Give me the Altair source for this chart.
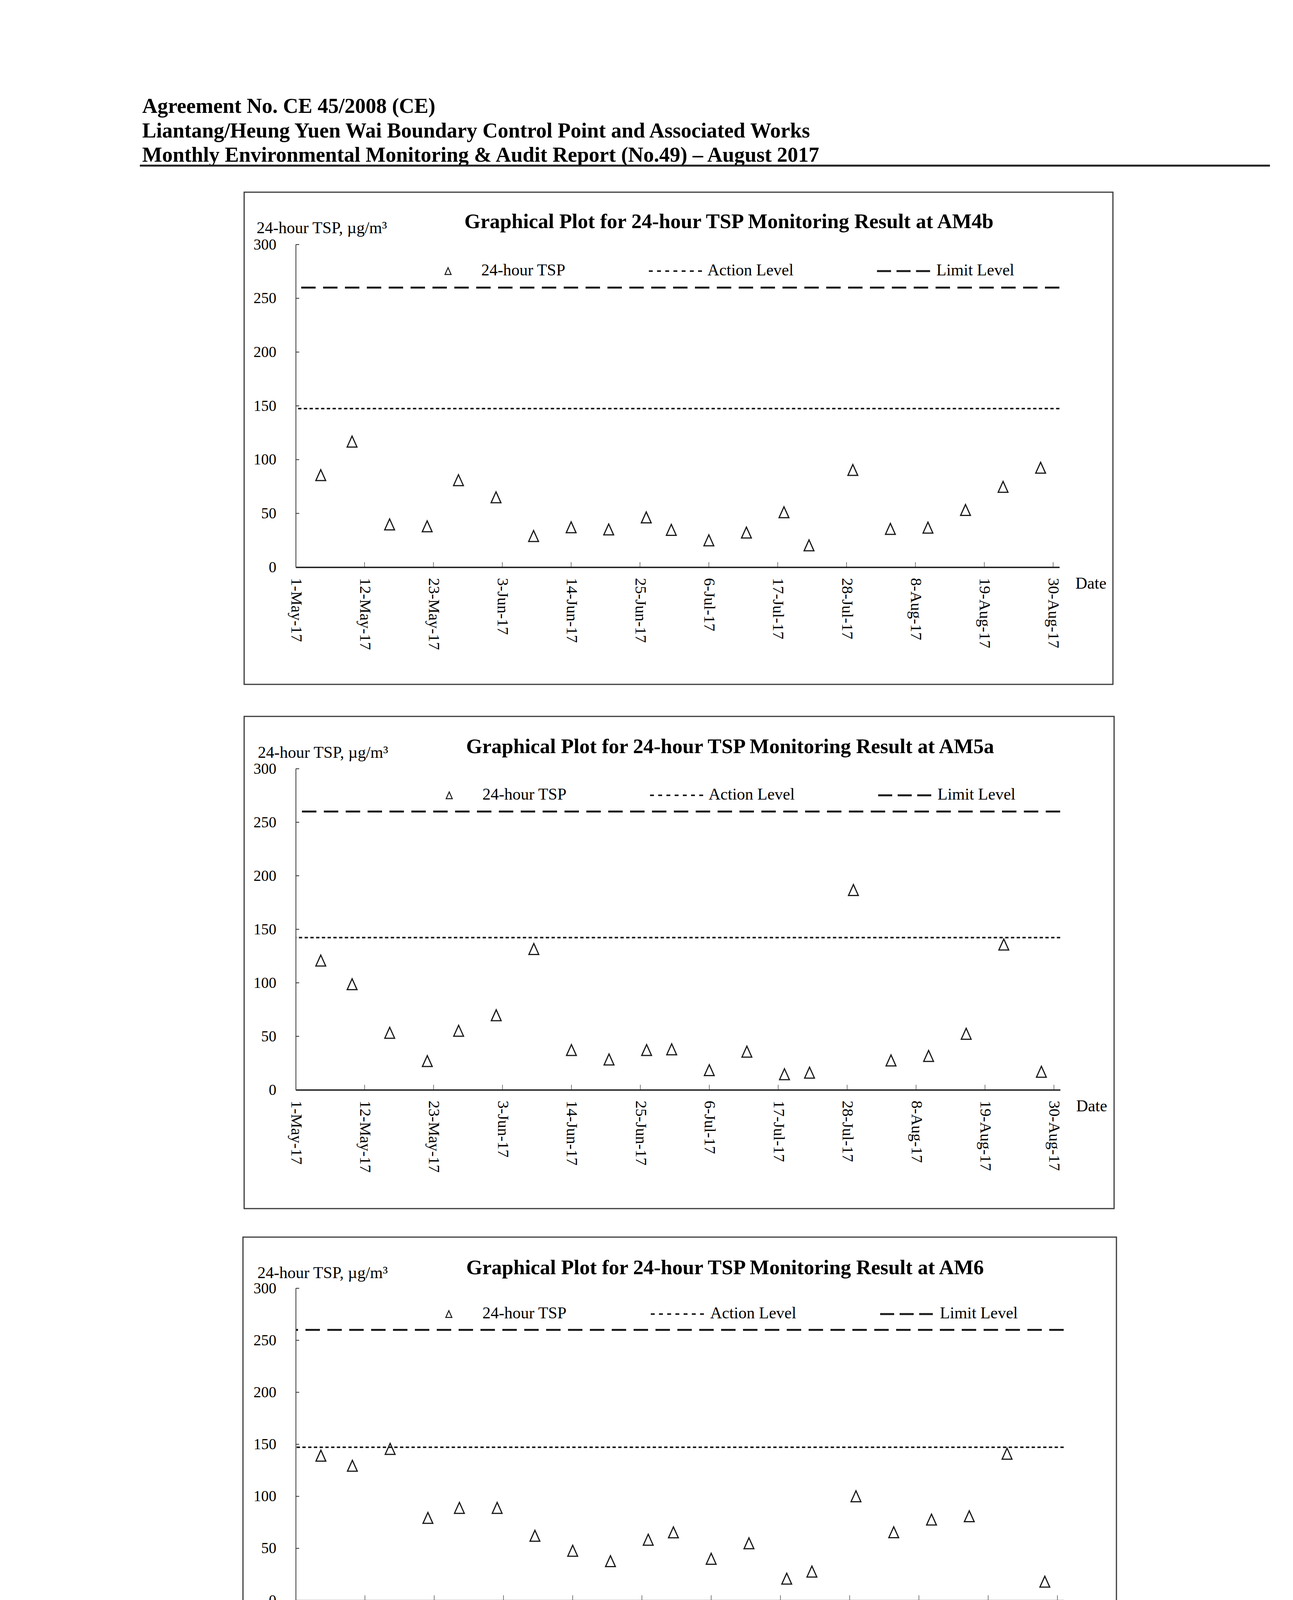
import altair as alt
import pandas as pd

# ---------------- data ----------------
sample_dates = ["2017-05-05", "2017-05-10", "2017-05-16", "2017-05-22", "2017-05-27",
                "2017-06-02", "2017-06-08", "2017-06-14", "2017-06-20", "2017-06-26",
                "2017-06-30", "2017-07-06", "2017-07-12", "2017-07-18", "2017-07-22",
                "2017-07-29", "2017-08-04", "2017-08-10", "2017-08-16", "2017-08-22",
                "2017-08-28"]
tsp_am4b = [85.6, 116.8, 39.8, 38.0, 80.9, 65.0, 29.0, 37.1, 35.1, 46.3, 34.7,
            25.0, 32.2, 51.1, 20.3, 90.4, 35.6, 36.8, 53.2, 74.7, 92.5]
tsp_am5a = [120.8, 98.7, 53.3, 26.9, 55.2, 69.7, 131.6, 37.2, 28.4, 37.2, 37.9,
            18.4, 35.7, 14.6, 16.1, 186.7, 27.5, 31.7, 52.4, 135.8, 16.9]
tsp_am6 = [139.1, 129.4, 145.6, 79.3, 88.9, 88.9, 62.1, 47.7, 37.7, 58.3, 65.4,
           40.0, 54.9, 20.9, 27.7, 100.1, 65.5, 77.7, 80.9, 141.0, 18.0]
stations = ["AM4b", "AM5a", "AM6"]
station_values = [tsp_am4b, tsp_am5a, tsp_am6]
action_levels = [147.5, 142.2, 147.2]
limit_level = 260
x_tick_dates = ["2017-05-01", "2017-05-12", "2017-05-23", "2017-06-03", "2017-06-14",
                "2017-06-25", "2017-07-06", "2017-07-17", "2017-07-28", "2017-08-08",
                "2017-08-19", "2017-08-30"]
x_domain = ["2017-05-01", "2017-08-31"]
y_tick_values = [0, 50, 100, 150, 200, 250, 300]
legend_labels = ["24-hour TSP", "Action Level", "Limit Level"]
header_lines = ["Agreement No. CE 45/2008 (CE)",
                "Liantang/Heung Yuen Wai Boundary Control Point and Associated Works",
                "Monthly Environmental Monitoring & Audit Report (No.49) \u2013 August 2017"]
footer_text = "Z:\\Jobs\\2013\\TCS00694\\600\\EM&A Report\\Monthly EM&A Report\\49th (August 2017)\\R1234v2.docx"
y_title = "24-hour TSP, \u00b5g/m\u00b3"
x_title = "Date"
title_prefix = "Graphical Plot for 24-hour TSP Monitoring Result at "

# ---------------- layout (page pixels) ----------------
SERIF = "Liberation Serif"
INK = "#1a1a1a"
TRI = "M0,-1L0.9,1L-0.9,1Z"
PAGE_L, PAGE_R = 8, 3290

geo = [
    dict(PL=756, PT=625, W=1955, H=826, slot=(8, 1800), box=(624, 491, 2848, 1751),
         tcx=1865, tby=583, ytx=656, yty=596, ly=691, tri=1146, t1=1231, dots=(1660, 1796),
         t2=1810, dash=(2244, 2380), t3=2396, dx=2752, ddy=42),
    dict(PL=753, PT=1965, W=1957, H=822, slot=(1800, 3130), box=(621, 1831, 2848, 3091),
         tcx=1865, tby=1925, ytx=656, yty=1937, ly=2031, tri=1146, t1=1231, dots=(1660, 1796),
         t2=1810, dash=(2244, 2380), t3=2396, dx=2751, ddy=42),
    dict(PL=750, PT=3293, W=1966, H=799, slot=(3130, 4650), box=(615, 3162, 2851, 4381),
         tcx=1849, tby=3257, ytx=652, yty=3267, ly=3357, tri=1142, t1=1228, dots=(1659, 1797),
         t2=1811, dash=(2246, 2381), t3=2399, dx=2756, ddy=43),
]


def dt(s):
    y, m, d = s.split("-")
    return alt.DateTime(year=int(y), month=int(m), date=int(d))


def text_layer(txt, x, y, size, weight="normal", align="left", baseline="alphabetic"):
    return alt.Chart(pd.DataFrame({"k": [0]})).mark_text(
        text=txt, font=SERIF, fontSize=size, fontWeight=weight, align=align,
        baseline=baseline, color="black").encode(x=alt.value(x), y=alt.value(y))


def panel(i):
    g = geo[i]
    PL, PT, W, H = g["PL"], g["PT"], g["W"], g["H"]
    lx = lambda p: p - PL
    ly = lambda p: p - PT
    one = alt.Chart(pd.DataFrame({"k": [0]}))
    xscale = alt.Scale(domain=[dt(x_domain[0]), dt(x_domain[1])], nice=False)
    yscale = alt.Scale(domain=[0, 300], nice=False)

    layers = []
    # page slot (defines this panel's extent on the page)
    layers.append(one.mark_rect(fill="white", strokeWidth=0).encode(
        x=alt.value(lx(PAGE_L)), x2=alt.value(lx(PAGE_R)),
        y=alt.value(ly(g["slot"][0])), y2=alt.value(ly(g["slot"][1]))))
    # frame
    b = g["box"]
    layers.append(one.mark_rect(fill="transparent", stroke="#3a3a3a", strokeWidth=3).encode(
        x=alt.value(lx(b[0])), x2=alt.value(lx(b[2])),
        y=alt.value(ly(b[1])), y2=alt.value(ly(b[3]))))

    # data points (carry the axes)
    pts = pd.DataFrame({"date": [d + "T00:00:00" for d in sample_dates],
                        "val": station_values[i]})
    layers.append(alt.Chart(pts).mark_point(
        shape=TRI, size=784, filled=False, stroke=INK, strokeWidth=3, opacity=1).encode(
        x=alt.X("date:T", scale=xscale, axis=alt.Axis(
            values=[dt(s) for s in x_tick_dates], format="%-d-%b-%y", labelAngle=90,
            labelAlign="left", labelBaseline="middle", labelPadding=27, labelLimit=600,
            labelFont=SERIF, labelFontSize=41, labelColor="black", labelFlush=False,
            labelOverlap=False, ticks=False, tickSize=0, grid=False, zindex=1,
            domainColor=INK, domainWidth=3.5, title=None)),
        y=alt.Y("val:Q", scale=yscale, axis=alt.Axis(
            values=y_tick_values, labelPadding=50, labelFont=SERIF, labelFontSize=39,
            labelColor="black", ticks=False, tickSize=0, grid=False, zindex=1,
            labelLimit=600, domainColor="#333333", domainWidth=2, title=None))))

    # inward y ticks
    layers.append(alt.Chart(pd.DataFrame({"val": y_tick_values[1:]})).mark_rule(
        color="#333333", strokeWidth=2).encode(
        y=alt.Y("val:Q", scale=yscale), x=alt.value(0), x2=alt.value(9)))
    # inward x ticks
    xt = pd.DataFrame({"date": [d + "T00:00:00" for d in x_tick_dates[1:]]})
    layers.append(alt.Chart(xt).mark_rule(color="#555555", strokeWidth=1.5).encode(
        x=alt.X("date:T", scale=xscale), y=alt.value(H - 13), y2=alt.value(H)))

    # action & limit levels
    layers.append(alt.Chart(pd.DataFrame({"val": [action_levels[i]]})).mark_rule(
        color=INK, strokeWidth=4, strokeDash=[8.5, 6.2]).encode(
        y=alt.Y("val:Q", scale=yscale)))
    layers.append(alt.Chart(pd.DataFrame({"val": [limit_level]})).mark_rule(
        color=INK, strokeWidth=5, strokeDash=[37, 19]).encode(
        y=alt.Y("val:Q", scale=yscale)))

    # titles
    layers.append(text_layer(title_prefix + stations[i], lx(g["tcx"]), ly(g["tby"]), 53,
                             weight="bold", align="center"))
    layers.append(text_layer(y_title, lx(g["ytx"]), ly(g["yty"]), 42))
    layers.append(text_layer(x_title, lx(g["dx"]), H + g["ddy"], 42, baseline="middle"))

    # legend
    yl = ly(g["ly"])
    layers.append(one.mark_point(shape=TRI, size=300, filled=False, stroke=INK,
                                 strokeWidth=2.5, opacity=1).encode(
        x=alt.value(lx(g["tri"])), y=alt.value(yl + 2)))
    layers.append(text_layer(legend_labels[0], lx(g["t1"]), yl, 42, baseline="middle"))
    layers.append(one.mark_rule(color=INK, strokeWidth=4, strokeDash=[10, 11]).encode(
        x=alt.value(lx(g["dots"][0])), x2=alt.value(lx(g["dots"][1])), y=alt.value(yl + 2)))
    layers.append(text_layer(legend_labels[1], lx(g["t2"]), yl, 42, baseline="middle"))
    layers.append(one.mark_rule(color=INK, strokeWidth=5, strokeDash=[36, 14]).encode(
        x=alt.value(lx(g["dash"][0])), x2=alt.value(lx(g["dash"][1])), y=alt.value(yl + 2)))
    layers.append(text_layer(legend_labels[2], lx(g["t3"]), yl, 42, baseline="middle"))

    # page header / footer
    if i == 0:
        for k, line in enumerate(header_lines):
            layers.append(text_layer(line, lx(363), ly(288 + 62.5 * k), 54, weight="bold"))
        layers.append(one.mark_rule(color="#222222", strokeWidth=5).encode(
            x=alt.value(lx(357)), x2=alt.value(lx(3250)), y=alt.value(ly(423))))
    if i == 2:
        layers.append(one.mark_rule(color="#222222", strokeWidth=5).encode(
            x=alt.value(lx(423)), x2=alt.value(lx(3066)), y=alt.value(ly(4437))))
        layers.append(text_layer(footer_text, lx(432), ly(4489), 43))

    return alt.layer(*layers).properties(width=W, height=H)


chart = alt.vconcat(panel(0), panel(1), panel(2), spacing=0, padding=0).configure_view(
    strokeWidth=0).configure(background="white")

chart.save("out.html", embed_options={"renderer": "svg", "actions": False})
